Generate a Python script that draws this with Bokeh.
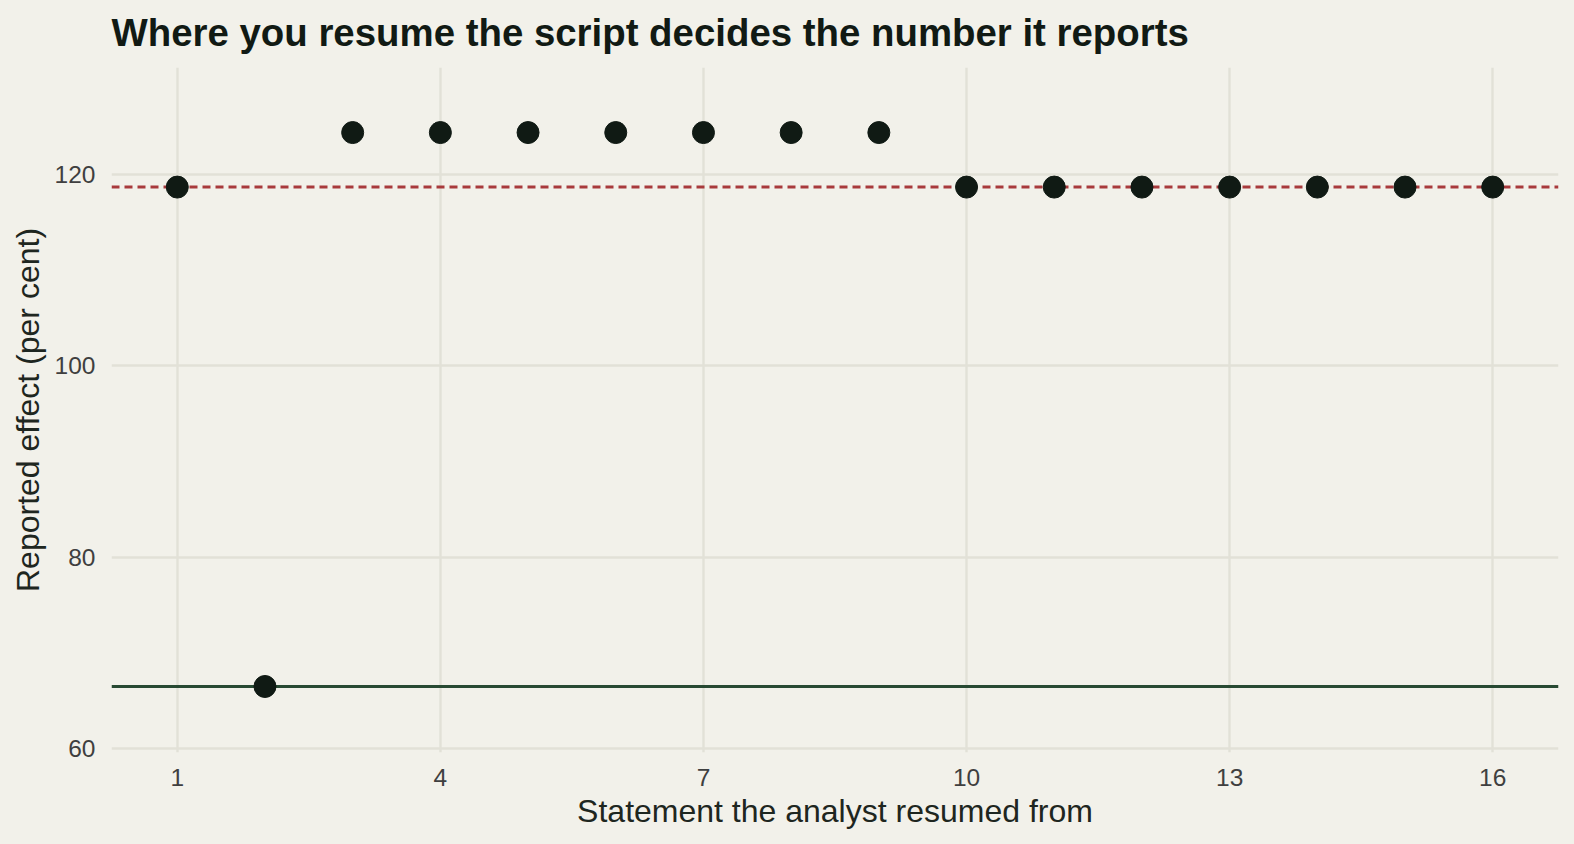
from bokeh.plotting import figure
from bokeh.models import Span, FixedTicker, Range1d, ColumnDataSource
from bokeh.embed import file_html
from bokeh.resources import INLINE

# ---- data ----
statements = list(range(1, 17))
reported = [118.7, 66.5, 124.4, 124.4, 124.4, 124.4, 124.4, 124.4, 124.4,
            118.7, 118.7, 118.7, 118.7, 118.7, 118.7, 118.7]
reference_value = 118.7
baseline_value = 66.5
x_ticks = [1, 4, 7, 10, 13, 16]
y_ticks = [60, 80, 100, 120]
title_text = "Where you resume the script decides the number it reports"

BG = "#F2F1EA"
GRID = "#E2E1D7"
FONT = "Liberation Sans"

p = figure(width=1574, height=844, output_backend="svg", toolbar_location=None,
           x_range=Range1d(0.25, 16.75), y_range=Range1d(59.6, 131.2),
           min_border_left=111, min_border_right=16, min_border_top=67, min_border_bottom=92,
           background_fill_color=BG, border_fill_color=BG, outline_line_color=None,
           title=title_text)

p.title.text_font = FONT
p.title.text_font_size = "38.4px"
p.title.text_font_style = "bold"
p.title.text_color = "#111A14"
p.title.align = "left"
p.title.vertical_align = "top"
p.title.offset = 0
p.title.standoff = 21.5

for ax, ticks in ((p.xaxis, x_ticks), (p.yaxis, y_ticks)):
    ax.ticker = FixedTicker(ticks=ticks)
    ax.axis_line_color = None
    ax.major_tick_line_color = None
    ax.minor_tick_line_color = None
    ax.major_label_text_font = FONT
    ax.major_label_text_font_size = "24.5px"
    ax.major_label_text_color = "#3F3F3F"
    ax.axis_label_text_font = FONT
    ax.axis_label_text_font_size = "32px"
    ax.axis_label_text_font_style = "normal"
    ax.axis_label_text_color = "#1E2620"

p.xaxis.axis_label = "Statement the analyst resumed from"
p.yaxis.axis_label = "Reported effect (per cent)"
p.xaxis.major_label_standoff = 10
p.xaxis.axis_label_standoff = 4
p.yaxis.major_label_standoff = 10
p.yaxis.axis_label_standoff = 6

p.xgrid.ticker = FixedTicker(ticks=x_ticks)
p.ygrid.ticker = FixedTicker(ticks=y_ticks)
for g in (p.xgrid, p.ygrid):
    g.grid_line_color = GRID
    g.grid_line_width = 2.4
    g.minor_grid_line_color = None

p.add_layout(Span(location=reference_value, dimension="width", line_color="#A83A3C",
                  line_width=3, line_dash="8 5", level="underlay"))
p.add_layout(Span(location=baseline_value, dimension="width", line_color="#284A33",
                  line_width=3, level="underlay"))

src = ColumnDataSource(dict(x=statements, y=reported))
p.scatter("x", "y", source=src, size=22, fill_color="#101A14", line_color="#101A14")

html = file_html(p, INLINE)
html = html.replace("</head>", "<style>html,body{background:%s !important;overflow:hidden;}</style></head>" % BG, 1)
open("out.html", "w").write(html)
